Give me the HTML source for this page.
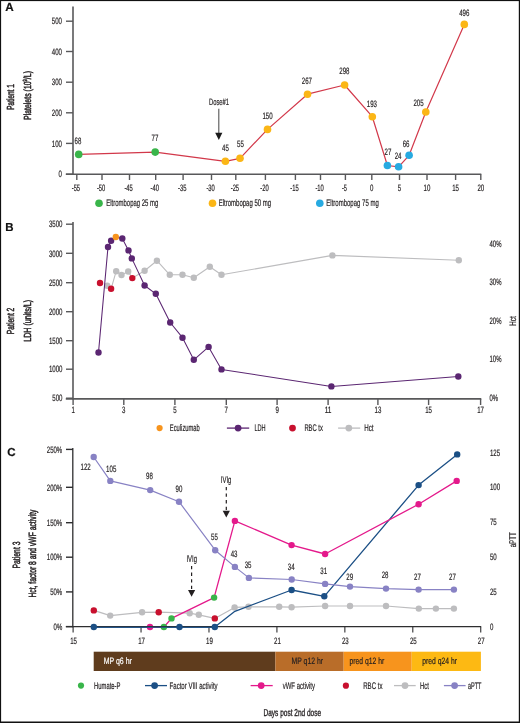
<!DOCTYPE html>
<html><head><meta charset="utf-8"><style>
html,body{margin:0;padding:0;background:#fff;}
svg{display:block;will-change:transform;}
text{font-family:"Liberation Sans", sans-serif;text-rendering:geometricPrecision;}
</style></head><body>
<svg width="520" height="723" viewBox="0 0 520 723">
<rect x="0" y="0" width="520" height="723" fill="#fff"/>
<g id="A">
<text x="9.45" y="10.8" font-size="11.7" text-anchor="middle" fill="#111" font-weight="bold" stroke="#111" stroke-width="0.2">A</text>
<line x1="73" y1="6.5" x2="73" y2="174.5" stroke="#58585a" stroke-width="1.6"/>
<line x1="65.8" y1="174.2" x2="481.3" y2="174.2" stroke="#58585a" stroke-width="1.6"/>
<line x1="66" y1="174.2" x2="73" y2="174.2" stroke="#58585a" stroke-width="1.4"/>
<text x="62" y="177.39999999999998" font-size="9.2" text-anchor="end" fill="#231f20" font-weight="normal" stroke="#231f20" stroke-width="0.2" textLength="3.4" lengthAdjust="spacingAndGlyphs">0</text>
<line x1="66" y1="143.4" x2="73" y2="143.4" stroke="#58585a" stroke-width="1.4"/>
<text x="62" y="146.6" font-size="9.2" text-anchor="end" fill="#231f20" font-weight="normal" stroke="#231f20" stroke-width="0.2" textLength="10.2" lengthAdjust="spacingAndGlyphs">100</text>
<line x1="66" y1="112.8" x2="73" y2="112.8" stroke="#58585a" stroke-width="1.4"/>
<text x="62" y="116.0" font-size="9.2" text-anchor="end" fill="#231f20" font-weight="normal" stroke="#231f20" stroke-width="0.2" textLength="10.2" lengthAdjust="spacingAndGlyphs">200</text>
<line x1="66" y1="82.2" x2="73" y2="82.2" stroke="#58585a" stroke-width="1.4"/>
<text x="62" y="85.4" font-size="9.2" text-anchor="end" fill="#231f20" font-weight="normal" stroke="#231f20" stroke-width="0.2" textLength="10.2" lengthAdjust="spacingAndGlyphs">300</text>
<line x1="66" y1="51.5" x2="73" y2="51.5" stroke="#58585a" stroke-width="1.4"/>
<text x="62" y="54.7" font-size="9.2" text-anchor="end" fill="#231f20" font-weight="normal" stroke="#231f20" stroke-width="0.2" textLength="10.2" lengthAdjust="spacingAndGlyphs">400</text>
<line x1="66" y1="21.2" x2="73" y2="21.2" stroke="#58585a" stroke-width="1.4"/>
<text x="62" y="24.4" font-size="9.2" text-anchor="end" fill="#231f20" font-weight="normal" stroke="#231f20" stroke-width="0.2" textLength="10.2" lengthAdjust="spacingAndGlyphs">500</text>
<line x1="76.8" y1="174.2" x2="76.8" y2="180" stroke="#58585a" stroke-width="1.4"/>
<text x="75.89999999999999" y="190.7" font-size="9.2" text-anchor="middle" fill="#231f20" font-weight="normal" stroke="#231f20" stroke-width="0.2" textLength="8.4" lengthAdjust="spacingAndGlyphs">-55</text>
<line x1="102" y1="174.2" x2="102" y2="180" stroke="#58585a" stroke-width="1.4"/>
<text x="101.1" y="190.7" font-size="9.2" text-anchor="middle" fill="#231f20" font-weight="normal" stroke="#231f20" stroke-width="0.2" textLength="8.4" lengthAdjust="spacingAndGlyphs">-50</text>
<line x1="129.5" y1="174.2" x2="129.5" y2="180" stroke="#58585a" stroke-width="1.4"/>
<text x="128.6" y="190.7" font-size="9.2" text-anchor="middle" fill="#231f20" font-weight="normal" stroke="#231f20" stroke-width="0.2" textLength="8.4" lengthAdjust="spacingAndGlyphs">-45</text>
<line x1="155.7" y1="174.2" x2="155.7" y2="180" stroke="#58585a" stroke-width="1.4"/>
<text x="154.79999999999998" y="190.7" font-size="9.2" text-anchor="middle" fill="#231f20" font-weight="normal" stroke="#231f20" stroke-width="0.2" textLength="8.4" lengthAdjust="spacingAndGlyphs">-40</text>
<line x1="183.1" y1="174.2" x2="183.1" y2="180" stroke="#58585a" stroke-width="1.4"/>
<text x="182.2" y="190.7" font-size="9.2" text-anchor="middle" fill="#231f20" font-weight="normal" stroke="#231f20" stroke-width="0.2" textLength="8.4" lengthAdjust="spacingAndGlyphs">-35</text>
<line x1="211.5" y1="174.2" x2="211.5" y2="180" stroke="#58585a" stroke-width="1.4"/>
<text x="210.6" y="190.7" font-size="9.2" text-anchor="middle" fill="#231f20" font-weight="normal" stroke="#231f20" stroke-width="0.2" textLength="8.4" lengthAdjust="spacingAndGlyphs">-30</text>
<line x1="235.8" y1="174.2" x2="235.8" y2="180" stroke="#58585a" stroke-width="1.4"/>
<text x="234.9" y="190.7" font-size="9.2" text-anchor="middle" fill="#231f20" font-weight="normal" stroke="#231f20" stroke-width="0.2" textLength="8.4" lengthAdjust="spacingAndGlyphs">-25</text>
<line x1="265.4" y1="174.2" x2="265.4" y2="180" stroke="#58585a" stroke-width="1.4"/>
<text x="264.5" y="190.7" font-size="9.2" text-anchor="middle" fill="#231f20" font-weight="normal" stroke="#231f20" stroke-width="0.2" textLength="8.4" lengthAdjust="spacingAndGlyphs">-20</text>
<line x1="295.4" y1="174.2" x2="295.4" y2="180" stroke="#58585a" stroke-width="1.4"/>
<text x="294.5" y="190.7" font-size="9.2" text-anchor="middle" fill="#231f20" font-weight="normal" stroke="#231f20" stroke-width="0.2" textLength="8.4" lengthAdjust="spacingAndGlyphs">-15</text>
<line x1="320.5" y1="174.2" x2="320.5" y2="180" stroke="#58585a" stroke-width="1.4"/>
<text x="319.6" y="190.7" font-size="9.2" text-anchor="middle" fill="#231f20" font-weight="normal" stroke="#231f20" stroke-width="0.2" textLength="8.4" lengthAdjust="spacingAndGlyphs">-10</text>
<line x1="345.4" y1="174.2" x2="345.4" y2="180" stroke="#58585a" stroke-width="1.4"/>
<text x="344.5" y="190.7" font-size="9.2" text-anchor="middle" fill="#231f20" font-weight="normal" stroke="#231f20" stroke-width="0.2" textLength="5.0" lengthAdjust="spacingAndGlyphs">-5</text>
<line x1="371.8" y1="174.2" x2="371.8" y2="180" stroke="#58585a" stroke-width="1.4"/>
<text x="371.8" y="190.7" font-size="9.2" text-anchor="middle" fill="#231f20" font-weight="normal" stroke="#231f20" stroke-width="0.2" textLength="3.4" lengthAdjust="spacingAndGlyphs">0</text>
<line x1="399.5" y1="174.2" x2="399.5" y2="180" stroke="#58585a" stroke-width="1.4"/>
<text x="399.5" y="190.7" font-size="9.2" text-anchor="middle" fill="#231f20" font-weight="normal" stroke="#231f20" stroke-width="0.2" textLength="3.4" lengthAdjust="spacingAndGlyphs">5</text>
<line x1="427" y1="174.2" x2="427" y2="180" stroke="#58585a" stroke-width="1.4"/>
<text x="427" y="190.7" font-size="9.2" text-anchor="middle" fill="#231f20" font-weight="normal" stroke="#231f20" stroke-width="0.2" textLength="6.8" lengthAdjust="spacingAndGlyphs">10</text>
<line x1="455.6" y1="174.2" x2="455.6" y2="180" stroke="#58585a" stroke-width="1.4"/>
<text x="455.6" y="190.7" font-size="9.2" text-anchor="middle" fill="#231f20" font-weight="normal" stroke="#231f20" stroke-width="0.2" textLength="6.8" lengthAdjust="spacingAndGlyphs">15</text>
<line x1="480.8" y1="174.2" x2="480.8" y2="180" stroke="#58585a" stroke-width="1.4"/>
<text x="480.8" y="190.7" font-size="9.2" text-anchor="middle" fill="#231f20" font-weight="normal" stroke="#231f20" stroke-width="0.2" textLength="6.8" lengthAdjust="spacingAndGlyphs">20</text>
<text x="13.5" y="97" font-size="10.3" text-anchor="middle" fill="#231f20" font-weight="normal" stroke="#231f20" stroke-width="0.5" textLength="25.5" lengthAdjust="spacingAndGlyphs" transform="rotate(-90 13.5 97)">Patient 1</text>
<text x="30.6" y="95.5" font-size="10.3" text-anchor="middle" fill="#231f20" stroke="#231f20" stroke-width="0.5" textLength="49" lengthAdjust="spacingAndGlyphs" transform="rotate(-90 30.6 95.5)">Platelets (10<tspan font-size="6" dy="-3.5">9</tspan><tspan dy="3.5">/L)</tspan></text>
<polyline points="78.7,154.4 155.2,152.1 225.4,161.3 240,158.3 267.5,129.4 307.5,94.2 344.6,85 372.3,116.7 387.4,165.5 398.6,166.8 409.1,155.3 425.8,112 464.3,24.4" fill="none" stroke="#d2384a" stroke-width="1.2" stroke-linejoin="round"/>
<circle cx="78.7" cy="154.4" r="3.8" fill="#39b54a"/>
<text x="78" y="144.3" font-size="9.2" text-anchor="middle" fill="#231f20" font-weight="normal" stroke="#231f20" stroke-width="0.2" textLength="6.8" lengthAdjust="spacingAndGlyphs">68</text>
<circle cx="155.2" cy="152.1" r="3.8" fill="#39b54a"/>
<text x="155" y="141.4" font-size="9.2" text-anchor="middle" fill="#231f20" font-weight="normal" stroke="#231f20" stroke-width="0.2" textLength="6.8" lengthAdjust="spacingAndGlyphs">77</text>
<circle cx="225.4" cy="161.3" r="3.8" fill="#fbb616"/>
<text x="225.4" y="151.4" font-size="9.2" text-anchor="middle" fill="#231f20" font-weight="normal" stroke="#231f20" stroke-width="0.2" textLength="6.8" lengthAdjust="spacingAndGlyphs">45</text>
<circle cx="240" cy="158.3" r="3.8" fill="#fbb616"/>
<text x="240.4" y="147" font-size="9.2" text-anchor="middle" fill="#231f20" font-weight="normal" stroke="#231f20" stroke-width="0.2" textLength="6.8" lengthAdjust="spacingAndGlyphs">55</text>
<circle cx="267.5" cy="129.4" r="3.8" fill="#fbb616"/>
<text x="267.5" y="119" font-size="9.2" text-anchor="middle" fill="#231f20" font-weight="normal" stroke="#231f20" stroke-width="0.2" textLength="10.2" lengthAdjust="spacingAndGlyphs">150</text>
<circle cx="307.5" cy="94.2" r="3.8" fill="#fbb616"/>
<text x="306.9" y="84" font-size="9.2" text-anchor="middle" fill="#231f20" font-weight="normal" stroke="#231f20" stroke-width="0.2" textLength="10.2" lengthAdjust="spacingAndGlyphs">267</text>
<circle cx="344.6" cy="85" r="3.8" fill="#fbb616"/>
<text x="344.4" y="74" font-size="9.2" text-anchor="middle" fill="#231f20" font-weight="normal" stroke="#231f20" stroke-width="0.2" textLength="10.2" lengthAdjust="spacingAndGlyphs">298</text>
<circle cx="372.3" cy="116.7" r="3.8" fill="#fbb616"/>
<text x="371.9" y="106.8" font-size="9.2" text-anchor="middle" fill="#231f20" font-weight="normal" stroke="#231f20" stroke-width="0.2" textLength="10.2" lengthAdjust="spacingAndGlyphs">193</text>
<circle cx="387.4" cy="165.5" r="3.8" fill="#27aae1"/>
<text x="387.9" y="154.7" font-size="9.2" text-anchor="middle" fill="#231f20" font-weight="normal" stroke="#231f20" stroke-width="0.2" textLength="6.8" lengthAdjust="spacingAndGlyphs">27</text>
<circle cx="398.6" cy="166.8" r="3.8" fill="#27aae1"/>
<text x="398.1" y="158.5" font-size="9.2" text-anchor="middle" fill="#231f20" font-weight="normal" stroke="#231f20" stroke-width="0.2" textLength="6.8" lengthAdjust="spacingAndGlyphs">24</text>
<circle cx="409.1" cy="155.3" r="3.8" fill="#27aae1"/>
<text x="406.1" y="146.5" font-size="9.2" text-anchor="middle" fill="#231f20" font-weight="normal" stroke="#231f20" stroke-width="0.2" textLength="6.8" lengthAdjust="spacingAndGlyphs">66</text>
<circle cx="425.8" cy="112" r="3.8" fill="#fbb616"/>
<text x="418.5" y="105.7" font-size="9.2" text-anchor="middle" fill="#231f20" font-weight="normal" stroke="#231f20" stroke-width="0.2" textLength="10.2" lengthAdjust="spacingAndGlyphs">205</text>
<circle cx="464.3" cy="24.4" r="3.8" fill="#fbb616"/>
<text x="464.3" y="16.3" font-size="9.2" text-anchor="middle" fill="#231f20" font-weight="normal" stroke="#231f20" stroke-width="0.2" textLength="10.2" lengthAdjust="spacingAndGlyphs">496</text>
<text x="219" y="104.7" font-size="9.2" text-anchor="middle" fill="#231f20" font-weight="normal" stroke="#231f20" stroke-width="0.2" textLength="20" lengthAdjust="spacingAndGlyphs">Dose#1</text>
<line x1="218.8" y1="108.7" x2="218.8" y2="133.5" stroke="#555" stroke-width="1.1"/>
<polygon points="215.2,132.8 222.4,132.8 218.8,139.9" fill="#1a1a1a"/>
<circle cx="99" cy="203.3" r="3.8" fill="#39b54a"/>
<text x="106.3" y="206.3" font-size="9.6" text-anchor="start" fill="#231f20" font-weight="normal" stroke="#231f20" stroke-width="0.2" textLength="52" lengthAdjust="spacingAndGlyphs">Eltrombopag 25 mg</text>
<circle cx="212.5" cy="203.3" r="3.8" fill="#fbb616"/>
<text x="218.7" y="206.3" font-size="9.6" text-anchor="start" fill="#231f20" font-weight="normal" stroke="#231f20" stroke-width="0.2" textLength="52.5" lengthAdjust="spacingAndGlyphs">Eltrombopag 50 mg</text>
<circle cx="319.8" cy="203.3" r="3.8" fill="#27aae1"/>
<text x="326.3" y="206.3" font-size="9.6" text-anchor="start" fill="#231f20" font-weight="normal" stroke="#231f20" stroke-width="0.2" textLength="52.5" lengthAdjust="spacingAndGlyphs">Eltrombopag 75 mg</text>
</g>
<g id="B">
<text x="9.4" y="231" font-size="11.5" text-anchor="middle" fill="#111" font-weight="bold" stroke="#111" stroke-width="0.2">B</text>
<line x1="73" y1="222" x2="73" y2="399.5" stroke="#58585a" stroke-width="1.6"/>
<line x1="65.8" y1="398.9" x2="481.3" y2="398.9" stroke="#58585a" stroke-width="1.6"/>
<line x1="66" y1="398.2" x2="73" y2="398.2" stroke="#58585a" stroke-width="1.4"/>
<text x="62.5" y="401.4" font-size="9.2" text-anchor="end" fill="#231f20" font-weight="normal" stroke="#231f20" stroke-width="0.2" textLength="10.2" lengthAdjust="spacingAndGlyphs">500</text>
<line x1="66" y1="369.2" x2="73" y2="369.2" stroke="#58585a" stroke-width="1.4"/>
<text x="62.5" y="372.4" font-size="9.2" text-anchor="end" fill="#231f20" font-weight="normal" stroke="#231f20" stroke-width="0.2" textLength="13.6" lengthAdjust="spacingAndGlyphs">1000</text>
<line x1="66" y1="340.7" x2="73" y2="340.7" stroke="#58585a" stroke-width="1.4"/>
<text x="62.5" y="343.9" font-size="9.2" text-anchor="end" fill="#231f20" font-weight="normal" stroke="#231f20" stroke-width="0.2" textLength="13.6" lengthAdjust="spacingAndGlyphs">1500</text>
<line x1="66" y1="311.7" x2="73" y2="311.7" stroke="#58585a" stroke-width="1.4"/>
<text x="62.5" y="314.9" font-size="9.2" text-anchor="end" fill="#231f20" font-weight="normal" stroke="#231f20" stroke-width="0.2" textLength="13.6" lengthAdjust="spacingAndGlyphs">2000</text>
<line x1="66" y1="282.7" x2="73" y2="282.7" stroke="#58585a" stroke-width="1.4"/>
<text x="62.5" y="285.9" font-size="9.2" text-anchor="end" fill="#231f20" font-weight="normal" stroke="#231f20" stroke-width="0.2" textLength="13.6" lengthAdjust="spacingAndGlyphs">2500</text>
<line x1="66" y1="253.3" x2="73" y2="253.3" stroke="#58585a" stroke-width="1.4"/>
<text x="62.5" y="256.5" font-size="9.2" text-anchor="end" fill="#231f20" font-weight="normal" stroke="#231f20" stroke-width="0.2" textLength="13.6" lengthAdjust="spacingAndGlyphs">3000</text>
<line x1="66" y1="224.2" x2="73" y2="224.2" stroke="#58585a" stroke-width="1.4"/>
<text x="62.5" y="227.39999999999998" font-size="9.2" text-anchor="end" fill="#231f20" font-weight="normal" stroke="#231f20" stroke-width="0.2" textLength="13.6" lengthAdjust="spacingAndGlyphs">3500</text>
<line x1="73.1" y1="398.9" x2="73.1" y2="405" stroke="#58585a" stroke-width="1.4"/>
<text x="73.1" y="413.4" font-size="9.2" text-anchor="middle" fill="#231f20" font-weight="normal" stroke="#231f20" stroke-width="0.2" textLength="3.4" lengthAdjust="spacingAndGlyphs">1</text>
<line x1="123.8" y1="398.9" x2="123.8" y2="405" stroke="#58585a" stroke-width="1.4"/>
<text x="123.8" y="413.4" font-size="9.2" text-anchor="middle" fill="#231f20" font-weight="normal" stroke="#231f20" stroke-width="0.2" textLength="3.4" lengthAdjust="spacingAndGlyphs">3</text>
<line x1="174.9" y1="398.9" x2="174.9" y2="405" stroke="#58585a" stroke-width="1.4"/>
<text x="174.9" y="413.4" font-size="9.2" text-anchor="middle" fill="#231f20" font-weight="normal" stroke="#231f20" stroke-width="0.2" textLength="3.4" lengthAdjust="spacingAndGlyphs">5</text>
<line x1="226.3" y1="398.9" x2="226.3" y2="405" stroke="#58585a" stroke-width="1.4"/>
<text x="226.3" y="413.4" font-size="9.2" text-anchor="middle" fill="#231f20" font-weight="normal" stroke="#231f20" stroke-width="0.2" textLength="3.4" lengthAdjust="spacingAndGlyphs">7</text>
<line x1="277.1" y1="398.9" x2="277.1" y2="405" stroke="#58585a" stroke-width="1.4"/>
<text x="277.1" y="413.4" font-size="9.2" text-anchor="middle" fill="#231f20" font-weight="normal" stroke="#231f20" stroke-width="0.2" textLength="3.4" lengthAdjust="spacingAndGlyphs">9</text>
<line x1="328.1" y1="398.9" x2="328.1" y2="405" stroke="#58585a" stroke-width="1.4"/>
<text x="328.1" y="413.4" font-size="9.2" text-anchor="middle" fill="#231f20" font-weight="normal" stroke="#231f20" stroke-width="0.2" textLength="6.8" lengthAdjust="spacingAndGlyphs">11</text>
<line x1="377.9" y1="398.9" x2="377.9" y2="405" stroke="#58585a" stroke-width="1.4"/>
<text x="377.9" y="413.4" font-size="9.2" text-anchor="middle" fill="#231f20" font-weight="normal" stroke="#231f20" stroke-width="0.2" textLength="6.8" lengthAdjust="spacingAndGlyphs">13</text>
<line x1="428.6" y1="398.9" x2="428.6" y2="405" stroke="#58585a" stroke-width="1.4"/>
<text x="428.6" y="413.4" font-size="9.2" text-anchor="middle" fill="#231f20" font-weight="normal" stroke="#231f20" stroke-width="0.2" textLength="6.8" lengthAdjust="spacingAndGlyphs">15</text>
<line x1="480.6" y1="398.9" x2="480.6" y2="405" stroke="#58585a" stroke-width="1.4"/>
<text x="480.6" y="413.4" font-size="9.2" text-anchor="middle" fill="#231f20" font-weight="normal" stroke="#231f20" stroke-width="0.2" textLength="6.8" lengthAdjust="spacingAndGlyphs">17</text>
<text x="489.5" y="400.5" font-size="9.2" text-anchor="start" fill="#231f20" font-weight="normal" stroke="#231f20" stroke-width="0.2" textLength="8.6" lengthAdjust="spacingAndGlyphs">0%</text>
<text x="489.5" y="361.9" font-size="9.2" text-anchor="start" fill="#231f20" font-weight="normal" stroke="#231f20" stroke-width="0.2" textLength="12.0" lengthAdjust="spacingAndGlyphs">10%</text>
<text x="489.5" y="323.8" font-size="9.2" text-anchor="start" fill="#231f20" font-weight="normal" stroke="#231f20" stroke-width="0.2" textLength="12.0" lengthAdjust="spacingAndGlyphs">20%</text>
<text x="489.5" y="284.9" font-size="9.2" text-anchor="start" fill="#231f20" font-weight="normal" stroke="#231f20" stroke-width="0.2" textLength="12.0" lengthAdjust="spacingAndGlyphs">30%</text>
<text x="489.5" y="246.89999999999998" font-size="9.2" text-anchor="start" fill="#231f20" font-weight="normal" stroke="#231f20" stroke-width="0.2" textLength="12.0" lengthAdjust="spacingAndGlyphs">40%</text>
<text x="515.8" y="321.1" font-size="9.5" text-anchor="middle" fill="#231f20" font-weight="normal" stroke="#231f20" stroke-width="0.2" textLength="10" lengthAdjust="spacingAndGlyphs" transform="rotate(-90 515.8 321.1)">Hct</text>
<text x="14" y="320.9" font-size="10.3" text-anchor="middle" fill="#231f20" font-weight="normal" stroke="#231f20" stroke-width="0.5" textLength="26.5" lengthAdjust="spacingAndGlyphs" transform="rotate(-90 14 320.9)">Patient 2</text>
<text x="31.3" y="320.8" font-size="10.3" text-anchor="middle" fill="#231f20" font-weight="normal" stroke="#231f20" stroke-width="0.5" textLength="42" lengthAdjust="spacingAndGlyphs" transform="rotate(-90 31.3 320.8)">LDH (units/L)</text>
<polyline points="107.2,285.8 111.1,288.8 116.2,271.2 121.5,275 128.2,271.5 132.3,278.1 144.6,270.8 156.9,260.7 169.8,274.8 182.5,274.8 193.8,277.8 209.8,266.8 221.5,274.8 332.4,255.4 458.8,260.2" fill="none" stroke="#bdbdbf" stroke-width="1.1" stroke-linejoin="round"/>
<circle cx="107.2" cy="285.8" r="3.2" fill="#bdbdbf"/>
<circle cx="116.2" cy="271.2" r="3.2" fill="#bdbdbf"/>
<circle cx="121.5" cy="275" r="3.2" fill="#bdbdbf"/>
<circle cx="128.2" cy="271.5" r="3.2" fill="#bdbdbf"/>
<circle cx="144.6" cy="270.8" r="3.2" fill="#bdbdbf"/>
<circle cx="156.9" cy="260.7" r="3.2" fill="#bdbdbf"/>
<circle cx="169.8" cy="274.8" r="3.2" fill="#bdbdbf"/>
<circle cx="182.5" cy="274.8" r="3.2" fill="#bdbdbf"/>
<circle cx="193.8" cy="277.8" r="3.2" fill="#bdbdbf"/>
<circle cx="209.8" cy="266.8" r="3.2" fill="#bdbdbf"/>
<circle cx="221.5" cy="274.8" r="3.2" fill="#bdbdbf"/>
<circle cx="332.4" cy="255.4" r="3.2" fill="#bdbdbf"/>
<circle cx="458.8" cy="260.2" r="3.2" fill="#bdbdbf"/>
<polyline points="98.5,352.5 108,247 111.1,240.8 115.8,237 122.3,238.5 128.5,250.4 131.8,258.4 144.6,285.5 155.8,293.8 170.2,322.5 182.5,337.7 193.8,359.8 208.6,346.9 221.5,369.4 331.4,386.4 458.3,376.5" fill="none" stroke="#5b2672" stroke-width="1.05" stroke-linejoin="round"/>
<circle cx="100" cy="283" r="3.2" fill="#c8102e"/>
<circle cx="111.1" cy="288.8" r="3.2" fill="#c8102e"/>
<circle cx="132.3" cy="278.1" r="3.2" fill="#c8102e"/>
<circle cx="98.5" cy="352.5" r="3.2" fill="#5b2672"/>
<circle cx="108" cy="247" r="3.2" fill="#5b2672"/>
<circle cx="111.1" cy="240.8" r="3.2" fill="#5b2672"/>
<circle cx="115.8" cy="237" r="3.2" fill="#f7941d"/>
<circle cx="122.3" cy="238.5" r="3.2" fill="#5b2672"/>
<circle cx="128.5" cy="250.4" r="3.2" fill="#5b2672"/>
<circle cx="131.8" cy="258.4" r="3.2" fill="#5b2672"/>
<circle cx="144.6" cy="285.5" r="3.2" fill="#5b2672"/>
<circle cx="155.8" cy="293.8" r="3.2" fill="#5b2672"/>
<circle cx="170.2" cy="322.5" r="3.2" fill="#5b2672"/>
<circle cx="182.5" cy="337.7" r="3.2" fill="#5b2672"/>
<circle cx="193.8" cy="359.8" r="3.2" fill="#5b2672"/>
<circle cx="208.6" cy="346.9" r="3.2" fill="#5b2672"/>
<circle cx="221.5" cy="369.4" r="3.2" fill="#5b2672"/>
<circle cx="331.4" cy="386.4" r="3.2" fill="#5b2672"/>
<circle cx="458.3" cy="376.5" r="3.2" fill="#5b2672"/>
<circle cx="159.6" cy="428.1" r="3.1" fill="#f7941d"/>
<text x="169.8" y="430.6" font-size="9.6" text-anchor="start" fill="#231f20" font-weight="normal" stroke="#231f20" stroke-width="0.2" textLength="30" lengthAdjust="spacingAndGlyphs">Eculizumab</text>
<line x1="226.9" y1="428.1" x2="249.2" y2="428.1" stroke="#5b2672" stroke-width="1.3"/>
<circle cx="238.1" cy="428.1" r="3.4" fill="#5b2672"/>
<text x="254.4" y="430.6" font-size="9.6" text-anchor="start" fill="#231f20" font-weight="normal" stroke="#231f20" stroke-width="0.2" textLength="11.2" lengthAdjust="spacingAndGlyphs">LDH</text>
<circle cx="292.5" cy="428.1" r="3.4" fill="#c8102e"/>
<text x="304.4" y="430.6" font-size="9.6" text-anchor="start" fill="#231f20" font-weight="normal" stroke="#231f20" stroke-width="0.2" textLength="18.5" lengthAdjust="spacingAndGlyphs">RBC tx</text>
<line x1="338.1" y1="428.1" x2="360.2" y2="428.1" stroke="#bdbdbf" stroke-width="1.3"/>
<circle cx="348.8" cy="428.1" r="3.4" fill="#bdbdbf"/>
<text x="364.2" y="430.6" font-size="9.6" text-anchor="start" fill="#231f20" font-weight="normal" stroke="#231f20" stroke-width="0.2" textLength="9.3" lengthAdjust="spacingAndGlyphs">Hct</text>
</g>
<g id="C">
<text x="11.5" y="456" font-size="11.5" text-anchor="middle" fill="#111" font-weight="bold" stroke="#111" stroke-width="0.2">C</text>
<line x1="72.8" y1="448" x2="72.8" y2="627.3" stroke="#2e2e30" stroke-width="1.3"/>
<line x1="65.8" y1="626.6" x2="481.2" y2="626.6" stroke="#2e2e30" stroke-width="1.3"/>
<line x1="66" y1="626.6" x2="73" y2="626.6" stroke="#2e2e30" stroke-width="1.4"/>
<text x="62.2" y="629.8000000000001" font-size="9.2" text-anchor="end" fill="#231f20" font-weight="normal" stroke="#231f20" stroke-width="0.2" textLength="8.6" lengthAdjust="spacingAndGlyphs">0%</text>
<line x1="66" y1="591.9" x2="73" y2="591.9" stroke="#2e2e30" stroke-width="1.4"/>
<text x="62.2" y="595.1" font-size="9.2" text-anchor="end" fill="#231f20" font-weight="normal" stroke="#231f20" stroke-width="0.2" textLength="12.0" lengthAdjust="spacingAndGlyphs">50%</text>
<line x1="66" y1="557.2" x2="73" y2="557.2" stroke="#2e2e30" stroke-width="1.4"/>
<text x="62.2" y="560.4000000000001" font-size="9.2" text-anchor="end" fill="#231f20" font-weight="normal" stroke="#231f20" stroke-width="0.2" textLength="15.399999999999999" lengthAdjust="spacingAndGlyphs">100%</text>
<line x1="66" y1="522.7" x2="73" y2="522.7" stroke="#2e2e30" stroke-width="1.4"/>
<text x="62.2" y="525.9000000000001" font-size="9.2" text-anchor="end" fill="#231f20" font-weight="normal" stroke="#231f20" stroke-width="0.2" textLength="15.399999999999999" lengthAdjust="spacingAndGlyphs">150%</text>
<line x1="66" y1="487.3" x2="73" y2="487.3" stroke="#2e2e30" stroke-width="1.4"/>
<text x="62.2" y="490.5" font-size="9.2" text-anchor="end" fill="#231f20" font-weight="normal" stroke="#231f20" stroke-width="0.2" textLength="15.399999999999999" lengthAdjust="spacingAndGlyphs">200%</text>
<line x1="66" y1="449.4" x2="73" y2="449.4" stroke="#2e2e30" stroke-width="1.4"/>
<text x="62.2" y="452.59999999999997" font-size="9.2" text-anchor="end" fill="#231f20" font-weight="normal" stroke="#231f20" stroke-width="0.2" textLength="15.399999999999999" lengthAdjust="spacingAndGlyphs">250%</text>
<line x1="73.1" y1="626.8" x2="73.1" y2="632.5" stroke="#2e2e30" stroke-width="1.1"/>
<text x="73.6" y="643.5" font-size="9.2" text-anchor="middle" fill="#231f20" font-weight="normal" stroke="#231f20" stroke-width="0.2" textLength="6.8" lengthAdjust="spacingAndGlyphs">15</text>
<line x1="141.04" y1="626.8" x2="141.04" y2="632.5" stroke="#2e2e30" stroke-width="1.1"/>
<text x="141.54" y="643.5" font-size="9.2" text-anchor="middle" fill="#231f20" font-weight="normal" stroke="#231f20" stroke-width="0.2" textLength="6.8" lengthAdjust="spacingAndGlyphs">17</text>
<line x1="208.98" y1="626.8" x2="208.98" y2="632.5" stroke="#2e2e30" stroke-width="1.1"/>
<text x="209.48" y="643.5" font-size="9.2" text-anchor="middle" fill="#231f20" font-weight="normal" stroke="#231f20" stroke-width="0.2" textLength="6.8" lengthAdjust="spacingAndGlyphs">19</text>
<line x1="276.91999999999996" y1="626.8" x2="276.91999999999996" y2="632.5" stroke="#2e2e30" stroke-width="1.1"/>
<text x="277.41999999999996" y="643.5" font-size="9.2" text-anchor="middle" fill="#231f20" font-weight="normal" stroke="#231f20" stroke-width="0.2" textLength="6.8" lengthAdjust="spacingAndGlyphs">21</text>
<line x1="344.86" y1="626.8" x2="344.86" y2="632.5" stroke="#2e2e30" stroke-width="1.1"/>
<text x="345.36" y="643.5" font-size="9.2" text-anchor="middle" fill="#231f20" font-weight="normal" stroke="#231f20" stroke-width="0.2" textLength="6.8" lengthAdjust="spacingAndGlyphs">23</text>
<line x1="412.79999999999995" y1="626.8" x2="412.79999999999995" y2="632.5" stroke="#2e2e30" stroke-width="1.1"/>
<text x="413.29999999999995" y="643.5" font-size="9.2" text-anchor="middle" fill="#231f20" font-weight="normal" stroke="#231f20" stroke-width="0.2" textLength="6.8" lengthAdjust="spacingAndGlyphs">25</text>
<line x1="480.74" y1="626.8" x2="480.74" y2="632.5" stroke="#2e2e30" stroke-width="1.1"/>
<text x="481.24" y="643.5" font-size="9.2" text-anchor="middle" fill="#231f20" font-weight="normal" stroke="#231f20" stroke-width="0.2" textLength="6.8" lengthAdjust="spacingAndGlyphs">27</text>
<text x="489.9" y="629.8000000000001" font-size="9.2" text-anchor="start" fill="#231f20" font-weight="normal" stroke="#231f20" stroke-width="0.2" textLength="3.4" lengthAdjust="spacingAndGlyphs">0</text>
<text x="489.9" y="594.7" font-size="9.2" text-anchor="start" fill="#231f20" font-weight="normal" stroke="#231f20" stroke-width="0.2" textLength="6.8" lengthAdjust="spacingAndGlyphs">25</text>
<text x="489.9" y="559.9000000000001" font-size="9.2" text-anchor="start" fill="#231f20" font-weight="normal" stroke="#231f20" stroke-width="0.2" textLength="6.8" lengthAdjust="spacingAndGlyphs">50</text>
<text x="489.9" y="525.0" font-size="9.2" text-anchor="start" fill="#231f20" font-weight="normal" stroke="#231f20" stroke-width="0.2" textLength="6.8" lengthAdjust="spacingAndGlyphs">75</text>
<text x="489.9" y="490.2" font-size="9.2" text-anchor="start" fill="#231f20" font-weight="normal" stroke="#231f20" stroke-width="0.2" textLength="10.2" lengthAdjust="spacingAndGlyphs">100</text>
<text x="489.9" y="455.59999999999997" font-size="9.2" text-anchor="start" fill="#231f20" font-weight="normal" stroke="#231f20" stroke-width="0.2" textLength="10.2" lengthAdjust="spacingAndGlyphs">125</text>
<text x="516" y="539.8" font-size="9.8" text-anchor="middle" fill="#231f20" font-weight="normal" stroke="#231f20" stroke-width="0.2" textLength="15" lengthAdjust="spacingAndGlyphs" transform="rotate(-90 516 539.8)">aPTT</text>
<text x="19.9" y="555" font-size="10.5" text-anchor="middle" fill="#231f20" font-weight="normal" stroke="#231f20" stroke-width="0.5" textLength="27" lengthAdjust="spacingAndGlyphs" transform="rotate(-90 19.9 555)">Patient 3</text>
<text x="36.4" y="553.6" font-size="10.5" text-anchor="middle" fill="#231f20" font-weight="normal" stroke="#231f20" stroke-width="0.5" textLength="88" lengthAdjust="spacingAndGlyphs" transform="rotate(-90 36.4 553.6)">Hct, factor 8 and vWF activity</text>
<polyline points="93.8,610.4 110.2,615.6 142.1,612.3 158.7,612.2 189.7,613.2 198.8,614.8 214.8,618.4 234.6,607.4 248.5,606.8 279.2,606.8 291.6,607.2 325.1,606 350,606 386,606 418.8,608.6 435.9,608.6 453.9,608.6" fill="none" stroke="#bdbdbf" stroke-width="1.2" stroke-linejoin="round"/>
<circle cx="110.2" cy="615.6" r="3.2" fill="#bdbdbf"/>
<circle cx="142.1" cy="612.3" r="3.2" fill="#bdbdbf"/>
<circle cx="189.7" cy="613.2" r="3.2" fill="#bdbdbf"/>
<circle cx="198.8" cy="614.8" r="3.2" fill="#bdbdbf"/>
<circle cx="234.6" cy="607.4" r="3.2" fill="#bdbdbf"/>
<circle cx="248.5" cy="606.8" r="3.2" fill="#bdbdbf"/>
<circle cx="279.2" cy="606.8" r="3.2" fill="#bdbdbf"/>
<circle cx="291.6" cy="607.2" r="3.2" fill="#bdbdbf"/>
<circle cx="325.1" cy="606" r="3.2" fill="#bdbdbf"/>
<circle cx="350" cy="606" r="3.2" fill="#bdbdbf"/>
<circle cx="386" cy="606" r="3.2" fill="#bdbdbf"/>
<circle cx="418.8" cy="608.6" r="3.2" fill="#bdbdbf"/>
<circle cx="435.9" cy="608.6" r="3.2" fill="#bdbdbf"/>
<circle cx="453.9" cy="608.6" r="3.2" fill="#bdbdbf"/>
<polyline points="93.8,627 179.5,627 214.8,627 234.9,611.3 291.6,590 324.3,596.3 418.6,485.1 457.2,454.4" fill="none" stroke="#1b4f85" stroke-width="1.3" stroke-linejoin="round"/>
<polyline points="150,627 163.9,627 171.5,618.4 214.1,597.6 234.9,520.9 291.6,545.1 325.1,554 418.6,504.2 456.7,480.9" fill="none" stroke="#e4198b" stroke-width="1.3" stroke-linejoin="round"/>
<polyline points="93.7,457 110.3,480.9 150.2,490.1 179,501.7 215.2,550.2 234.9,566.9 248.9,577.9 291.7,579.5 325.1,583.9 350,586.6 386,588.6 418.6,589.6 453.9,589.6" fill="none" stroke="#8882c4" stroke-width="1.2" stroke-linejoin="round"/>
<circle cx="93.7" cy="457" r="3.2" fill="#8882c4"/>
<circle cx="110.3" cy="480.9" r="3.2" fill="#8882c4"/>
<circle cx="150.2" cy="490.1" r="3.2" fill="#8882c4"/>
<circle cx="179" cy="501.7" r="3.2" fill="#8882c4"/>
<circle cx="215.2" cy="550.2" r="3.2" fill="#8882c4"/>
<circle cx="234.9" cy="566.9" r="3.2" fill="#8882c4"/>
<circle cx="248.9" cy="577.9" r="3.2" fill="#8882c4"/>
<circle cx="291.7" cy="579.5" r="3.2" fill="#8882c4"/>
<circle cx="325.1" cy="583.9" r="3.2" fill="#8882c4"/>
<circle cx="350" cy="586.6" r="3.2" fill="#8882c4"/>
<circle cx="386" cy="588.6" r="3.2" fill="#8882c4"/>
<circle cx="418.6" cy="589.6" r="3.2" fill="#8882c4"/>
<circle cx="453.9" cy="589.6" r="3.2" fill="#8882c4"/>
<circle cx="150" cy="627" r="3.2" fill="#e4198b"/>
<circle cx="234.9" cy="520.9" r="3.2" fill="#e4198b"/>
<circle cx="291.6" cy="545.1" r="3.2" fill="#e4198b"/>
<circle cx="325.1" cy="554" r="3.2" fill="#e4198b"/>
<circle cx="418.6" cy="504.2" r="3.2" fill="#e4198b"/>
<circle cx="456.7" cy="480.9" r="3.2" fill="#e4198b"/>
<circle cx="163.9" cy="627" r="3.2" fill="#39b54a"/>
<circle cx="171.5" cy="618.4" r="3.2" fill="#39b54a"/>
<circle cx="214.1" cy="597.6" r="3.2" fill="#39b54a"/>
<circle cx="93.8" cy="610.4" r="3.2" fill="#c8102e"/>
<circle cx="158.7" cy="612.2" r="3.2" fill="#c8102e"/>
<circle cx="214.8" cy="618.4" r="3.2" fill="#c8102e"/>
<line x1="73" y1="626.5" x2="214.8" y2="626.5" stroke="#2e2e30" stroke-width="1.1"/>
<line x1="93.8" y1="627.3" x2="214.8" y2="627.3" stroke="#1b4f85" stroke-width="1.1"/>
<circle cx="93.8" cy="627" r="3.2" fill="#1b4f85"/>
<circle cx="179.5" cy="627" r="3.2" fill="#1b4f85"/>
<circle cx="214.8" cy="627" r="3.2" fill="#1b4f85"/>
<circle cx="291.6" cy="590" r="3.2" fill="#1b4f85"/>
<circle cx="324.3" cy="596.3" r="3.2" fill="#1b4f85"/>
<circle cx="418.6" cy="485.1" r="3.2" fill="#1b4f85"/>
<circle cx="457.2" cy="454.4" r="3.2" fill="#1b4f85"/>
<text x="85.6" y="469.8" font-size="9.2" text-anchor="middle" fill="#231f20" font-weight="normal" stroke="#231f20" stroke-width="0.2" textLength="10.2" lengthAdjust="spacingAndGlyphs">122</text>
<text x="111.2" y="471.7" font-size="9.2" text-anchor="middle" fill="#231f20" font-weight="normal" stroke="#231f20" stroke-width="0.2" textLength="10.2" lengthAdjust="spacingAndGlyphs">105</text>
<text x="149.4" y="479.2" font-size="9.2" text-anchor="middle" fill="#231f20" font-weight="normal" stroke="#231f20" stroke-width="0.2" textLength="6.8" lengthAdjust="spacingAndGlyphs">98</text>
<text x="179" y="491.9" font-size="9.2" text-anchor="middle" fill="#231f20" font-weight="normal" stroke="#231f20" stroke-width="0.2" textLength="6.8" lengthAdjust="spacingAndGlyphs">90</text>
<text x="214.4" y="540.1" font-size="9.2" text-anchor="middle" fill="#231f20" font-weight="normal" stroke="#231f20" stroke-width="0.2" textLength="6.8" lengthAdjust="spacingAndGlyphs">55</text>
<text x="234.1" y="557.1" font-size="9.2" text-anchor="middle" fill="#231f20" font-weight="normal" stroke="#231f20" stroke-width="0.2" textLength="6.8" lengthAdjust="spacingAndGlyphs">43</text>
<text x="248.1" y="568.4" font-size="9.2" text-anchor="middle" fill="#231f20" font-weight="normal" stroke="#231f20" stroke-width="0.2" textLength="6.8" lengthAdjust="spacingAndGlyphs">35</text>
<text x="291.2" y="569.8" font-size="9.2" text-anchor="middle" fill="#231f20" font-weight="normal" stroke="#231f20" stroke-width="0.2" textLength="6.8" lengthAdjust="spacingAndGlyphs">34</text>
<text x="323.7" y="574.0" font-size="9.2" text-anchor="middle" fill="#231f20" font-weight="normal" stroke="#231f20" stroke-width="0.2" textLength="6.8" lengthAdjust="spacingAndGlyphs">31</text>
<text x="349.7" y="579.8" font-size="9.2" text-anchor="middle" fill="#231f20" font-weight="normal" stroke="#231f20" stroke-width="0.2" textLength="6.8" lengthAdjust="spacingAndGlyphs">29</text>
<text x="385.1" y="578.2" font-size="9.2" text-anchor="middle" fill="#231f20" font-weight="normal" stroke="#231f20" stroke-width="0.2" textLength="6.8" lengthAdjust="spacingAndGlyphs">28</text>
<text x="417.5" y="579.5" font-size="9.2" text-anchor="middle" fill="#231f20" font-weight="normal" stroke="#231f20" stroke-width="0.2" textLength="6.8" lengthAdjust="spacingAndGlyphs">27</text>
<text x="452.5" y="579.7" font-size="9.2" text-anchor="middle" fill="#231f20" font-weight="normal" stroke="#231f20" stroke-width="0.2" textLength="6.8" lengthAdjust="spacingAndGlyphs">27</text>
<text x="226.1" y="483.1" font-size="9.6" text-anchor="middle" fill="#231f20" font-weight="normal" stroke="#231f20" stroke-width="0.2" textLength="10.5" lengthAdjust="spacingAndGlyphs">IVIg</text>
<line x1="226.3" y1="486.9" x2="226.3" y2="511.5" stroke="#231f20" stroke-width="1.2" stroke-dasharray="3.3,3.3"/>
<polygon points="222.7,510.8 229.9,510.8 226.3,517.6" fill="#231f20"/>
<text x="191.7" y="562.3" font-size="9.6" text-anchor="middle" fill="#231f20" font-weight="normal" stroke="#231f20" stroke-width="0.2" textLength="10.5" lengthAdjust="spacingAndGlyphs">IVIg</text>
<line x1="191.6" y1="566" x2="191.6" y2="590.5" stroke="#231f20" stroke-width="1.2" stroke-dasharray="3.3,3.3"/>
<polygon points="188,590 195.2,590 191.6,596.8" fill="#231f20"/>
<rect x="93.7" y="651.7" width="181.7" height="19.3" fill="#5f3c1d"/>
<rect x="275.4" y="651.7" width="68.3" height="19.3" fill="#b96d29"/>
<rect x="343.7" y="651.7" width="68" height="19.3" fill="#f7941d"/>
<rect x="411.7" y="651.7" width="69.2" height="19.3" fill="#fdb913"/>
<text x="103.8" y="664.4" font-size="9.2" text-anchor="start" fill="#fff" font-weight="normal" stroke="#fff" stroke-width="0.2" textLength="28" lengthAdjust="spacingAndGlyphs">MP q6 hr</text>
<text x="291.5" y="664.4" font-size="9.2" text-anchor="start" fill="#231f20" font-weight="normal" stroke="#231f20" stroke-width="0.2" textLength="31.5" lengthAdjust="spacingAndGlyphs">MP q12 hr</text>
<text x="349.6" y="664.4" font-size="9.2" text-anchor="start" fill="#231f20" font-weight="normal" stroke="#231f20" stroke-width="0.2" textLength="34.6" lengthAdjust="spacingAndGlyphs">pred q12 hr</text>
<text x="422.3" y="664.4" font-size="9.2" text-anchor="start" fill="#231f20" font-weight="normal" stroke="#231f20" stroke-width="0.2" textLength="34.6" lengthAdjust="spacingAndGlyphs">pred q24 hr</text>
<circle cx="81" cy="685.6" r="3.1" fill="#39b54a"/>
<text x="94" y="688.6" font-size="9.6" text-anchor="start" fill="#231f20" font-weight="normal" stroke="#231f20" stroke-width="0.2" textLength="26.4" lengthAdjust="spacingAndGlyphs">Humate-P</text>
<line x1="145" y1="685.6" x2="167" y2="685.6" stroke="#1b4f85" stroke-width="1.3"/>
<circle cx="154.6" cy="685.6" r="3.4" fill="#1b4f85"/>
<text x="169.6" y="688.6" font-size="9.6" text-anchor="start" fill="#231f20" font-weight="normal" stroke="#231f20" stroke-width="0.2" textLength="48" lengthAdjust="spacingAndGlyphs">Factor VIII activity</text>
<line x1="250.6" y1="685.6" x2="272.7" y2="685.6" stroke="#e4198b" stroke-width="1.3"/>
<circle cx="261.2" cy="685.6" r="3.4" fill="#e4198b"/>
<text x="282.7" y="688.6" font-size="9.6" text-anchor="start" fill="#231f20" font-weight="normal" stroke="#231f20" stroke-width="0.2" textLength="32.3" lengthAdjust="spacingAndGlyphs">vWF activity</text>
<circle cx="345.9" cy="685.7" r="3.1" fill="#c8102e"/>
<text x="363.2" y="688.6" font-size="9.6" text-anchor="start" fill="#231f20" font-weight="normal" stroke="#231f20" stroke-width="0.2" textLength="19.3" lengthAdjust="spacingAndGlyphs">RBC tx</text>
<line x1="394" y1="685.6" x2="415.7" y2="685.6" stroke="#bdbdbf" stroke-width="1.3"/>
<circle cx="405" cy="685.6" r="3.4" fill="#bdbdbf"/>
<text x="420" y="688.6" font-size="9.6" text-anchor="start" fill="#231f20" font-weight="normal" stroke="#231f20" stroke-width="0.2" textLength="8.9" lengthAdjust="spacingAndGlyphs">Hct</text>
<line x1="443.9" y1="685.6" x2="465.6" y2="685.6" stroke="#8882c4" stroke-width="1.3"/>
<circle cx="454.6" cy="685.6" r="3.4" fill="#8882c4"/>
<text x="467.9" y="688.6" font-size="9.6" text-anchor="start" fill="#231f20" font-weight="normal" stroke="#231f20" stroke-width="0.2" textLength="13.6" lengthAdjust="spacingAndGlyphs">aPTT</text>
<text x="263.5" y="716.2" font-size="10" text-anchor="start" fill="#231f20" font-weight="normal" stroke="#231f20" stroke-width="0.35" textLength="57.6" lengthAdjust="spacingAndGlyphs">Days post 2nd dose</text>
</g>
<rect x="0" y="0" width="520" height="1.1" fill="#111"/><rect x="0" y="0" width="1.1" height="723" fill="#111"/><rect x="518.8" y="0" width="1.2" height="723" fill="#111"/><rect x="0" y="721.5" width="520" height="1.5" fill="#111"/>
</svg>
</body></html>
